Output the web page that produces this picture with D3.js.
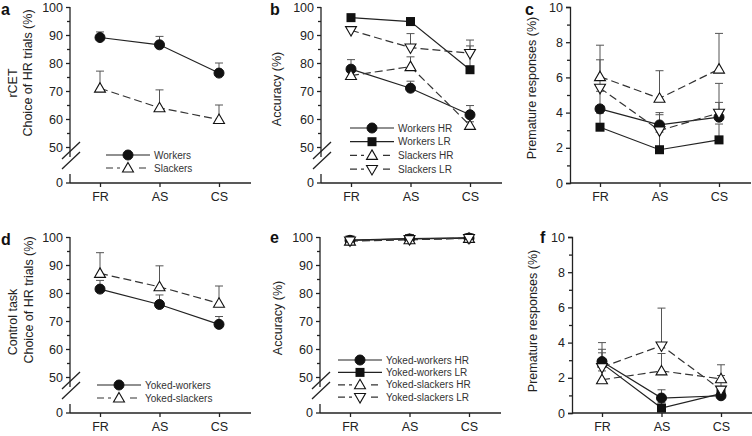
<!DOCTYPE html>
<html>
<head>
<meta charset="utf-8">
<script src="https://cdn.jsdelivr.net/npm/d3@7"></script>
<style>
  body { margin: 0; background: #fff; }
  svg { font-family: "Liberation Sans", Arial, sans-serif; }
</style>
</head>
<body>
<svg id="fig" width="752" height="436"></svg>
<script>
var categories = ["FR", "AS", "CS"];

// panel a - rCET choice
var aWorkers = [89.1, 86.5, 76.4];
var aWorkersSem = [2.0, 3.0, 3.6];
var aSlackers = [71.0, 64.0, 59.8];
var aSlackersSem = [6.1, 6.4, 5.2];

// panel b - rCET accuracy
var bWorkersHR = [77.8, 71.0, 61.5];
var bWorkersHRSem = [3.4, 2.5, 3.3];
var bWorkersLR = [96.2, 94.8, 77.6];
var bWorkersLRSem = [0.8, 1.4, 8.5];
var bSlackersHR = [75.5, 78.7, 57.7];
var bSlackersHRSem = [1.5, 3.5, 1.3];
var bSlackersLR = [91.7, 85.5, 83.5];
var bSlackersLRSem = [1.3, 5.0, 4.7];

// panel c - rCET premature
var cWorkersHR = [4.21, 3.3, 3.74];
var cWorkersHRSem = [1.0, 0.7, 0.84];
var cWorkersLR = [3.17, 1.89, 2.45];
var cWorkersLRSem = [0.8, 1.0, 0.9];
var cSlackersHR = [6.04, 4.81, 6.47];
var cSlackersHRSem = [1.79, 1.57, 2.03];
var cSlackersLR = [5.4, 2.98, 3.98];
var cSlackersLRSem = [1.6, 0.9, 1.68];

// panel d - control task choice
var dWorkers = [81.4, 75.9, 68.8];
var dWorkersSem = [3.1, 3.4, 2.8];
var dSlackers = [87.0, 82.2, 76.3];
var dSlackersSem = [7.4, 7.5, 6.2];

// panel e - control task accuracy
var eWorkersHR = [98.8, 99.3, 99.6];
var eWorkersLR = [98.9, 99.4, 99.7];
var eSlackersHR = [98.5, 99.0, 99.5];
var eSlackersLR = [98.7, 99.2, 99.6];
var eSem = [0.4, 0.3, 0.2];

// panel f - control task premature
var fWorkersHR = [2.92, 0.85, 0.98];
var fWorkersHRSem = [0.7, 0.47, 0.3];
var fWorkersLR = [2.82, 0.28, 1.1];
var fWorkersLRSem = [0.6, 0.3, 0.3];
var fSlackersHR = [1.89, 2.39, 1.94];
var fSlackersHRSem = [0.5, 0.99, 0.8];
var fSlackersLR = [2.6, 3.83, 1.32];
var fSlackersLRSem = [1.4, 2.13, 0.81];

var pctTicks = [50, 60, 70, 80, 90, 100];
var pctMinor = [55, 65, 75, 85, 95];
var premTicks = [0, 2, 4, 6, 8, 10];
var premMinor = [1, 3, 5, 7, 9];

var ink = "#222";
var svg = d3.select("#fig");

function makeSeries(name, values, sem, shape, dashed) {
  return { name: name, values: values, sem: sem, shape: shape, dashed: dashed };
}

function drawMarker(g, shape, cx, cy) {
  if (shape == "circle") {
    g.append("circle").attr("cx", cx).attr("cy", cy).attr("r", 5)
      .attr("fill", "#111").attr("stroke", "#111");
  } else if (shape == "square") {
    g.append("rect").attr("x", cx - 4.5).attr("y", cy - 4.5)
      .attr("width", 9).attr("height", 9).attr("fill", "#111");
  } else {
    var sym = d3.symbol().type(d3.symbolTriangle).size(52);
    var rot = shape == "down" ? 180 : 0;
    var dy = shape == "down" ? -0.5 : 0.8;
    g.append("path").attr("d", sym())
      .attr("transform", "translate(" + cx + "," + (cy + dy) + ") rotate(" + rot + ")")
      .attr("fill", "white").attr("stroke", "#111").attr("stroke-width", 1.1);
  }
}

function drawPanel(p) {
  var g = svg.append("g");
  var x = d3.scalePoint().domain(categories).range([p.ax + 30, p.ax + 149]);
  var y;
  if (p.broken) {
    y = d3.scaleLinear().domain([50, 100]).range([p.y0 - 36, p.y0 - 176]);
  } else {
    y = d3.scaleLinear().domain([0, 10]).range([p.y0, p.y0 - 176]);
  }

  // x axis
  var xAxis = d3.axisBottom(x).tickSize(4).tickPadding(5);
  var xg = g.append("g").attr("transform", "translate(0," + p.y0 + ")").call(xAxis);
  xg.select(".domain").attr("d", "M" + p.ax + ",0H" + (p.ax + 181));
  xg.selectAll("line, path").attr("stroke", ink).attr("stroke-width", 1.3);
  xg.selectAll("text").attr("font-size", 12.5).attr("fill", ink)
    .attr("font-family", "Liberation Sans, Arial, sans-serif");

  // y axis
  var majors = p.broken ? pctTicks : premTicks;
  var minors = p.broken ? pctMinor : premMinor;
  var yAxis = d3.axisLeft(y).tickValues(majors).tickSize(4).tickPadding(3);
  var yg = g.append("g").attr("transform", "translate(" + p.ax + ",0)").call(yAxis);
  yg.selectAll("text").attr("font-size", 12.5).attr("fill", ink)
    .attr("font-family", "Liberation Sans, Arial, sans-serif");
  var yMinor = d3.axisLeft(y).tickValues(minors).tickSize(3).tickFormat("");
  var ym = g.append("g").attr("transform", "translate(" + p.ax + ",0)").call(yMinor);
  ym.select(".domain").remove();
  g.selectAll("line").attr("stroke", ink).attr("stroke-width", 1.3);

  if (p.broken) {
    var top = y(100);
    yg.select(".domain").attr("d", "M0," + top + "V" + (y(50) + 10));
    // zero tick and its label under the break
    g.append("line").attr("x1", p.ax - 4).attr("x2", p.ax)
      .attr("y1", p.y0).attr("y2", p.y0).attr("stroke", ink).attr("stroke-width", 1.3);
    g.append("line").attr("x1", p.ax).attr("x2", p.ax)
      .attr("y1", p.y0 - 9).attr("y2", p.y0).attr("stroke", ink).attr("stroke-width", 1.3);
    g.append("text").attr("x", p.ax - 7).attr("y", p.y0).attr("dy", "0.32em")
      .attr("text-anchor", "end").attr("font-size", 12.5).attr("fill", ink).text("0");
    [0, 10].forEach(function (off) {
      g.append("line")
        .attr("x1", p.ax - 8).attr("y1", p.y0 - 14 + off - 10)
        .attr("x2", p.ax + 10).attr("y2", p.y0 - 31 + off - 10)
        .attr("stroke", ink).attr("stroke-width", 1.3);
    });
  }
  yg.selectAll("path, line").attr("stroke", ink).attr("stroke-width", 1.3);

  // axis title
  p.titles.forEach(function (t) {
    g.append("text")
      .attr("transform", "translate(" + t.x + "," + t.y + ") rotate(-90)")
      .attr("text-anchor", "middle").attr("font-size", 12.5).attr("fill", ink)
      .text(t.text);
  });

  // panel letter
  g.append("text").attr("x", p.letterX).attr("y", p.letterY)
    .attr("font-size", 16).attr("font-weight", "bold").attr("fill", "#111")
    .text(p.letter);

  // error bars (upper only)
  p.series.forEach(function (s) {
    s.values.forEach(function (v, i) {
      var cx = x(categories[i]);
      var yt = y(v + s.sem[i]);
      g.append("line").attr("x1", cx).attr("x2", cx)
        .attr("y1", y(v)).attr("y2", yt)
        .attr("stroke", "#555").attr("stroke-width", 1);
      g.append("line").attr("x1", cx - 4).attr("x2", cx + 4)
        .attr("y1", yt).attr("y2", yt)
        .attr("stroke", "#555").attr("stroke-width", 1);
    });
  });

  // lines
  p.series.forEach(function (s) {
    g.append("path")
      .datum(s.values)
      .attr("fill", "none")
      .attr("stroke", s.dashed ? "#333" : ink)
      .attr("stroke-width", 1.2)
      .attr("stroke-dasharray", s.dashed ? "8,4" : null)
      .attr("d", d3.line()
        .x(function (d, i) { return x(categories[i]) })
        .y(function (d) { return y(d) })
      );
  });

  // markers
  p.series.forEach(function (s) {
    s.values.forEach(function (v, i) {
      drawMarker(g, s.shape, x(categories[i]), y(v));
    });
  });

  // legend
  if (p.legend) {
    p.series.forEach(function (s, i) {
      var ly = p.legend.y + i * p.legend.step;
      g.append("line")
        .attr("x1", p.legend.x).attr("x2", p.legend.x + 44)
        .attr("y1", ly).attr("y2", ly)
        .attr("stroke", s.dashed ? "#333" : ink).attr("stroke-width", 1.2)
        .attr("stroke-dasharray", s.dashed ? "7,4" : null);
      if (s.dashed) {
        g.append("rect").attr("x", p.legend.x + 14).attr("y", ly - 3)
          .attr("width", 16).attr("height", 6).attr("fill", "white");
      }
      drawMarker(g, s.shape, p.legend.x + 22, ly);
      g.append("text").attr("x", p.legend.x + 48).attr("y", ly).attr("dy", "0.35em")
        .attr("font-size", 10).attr("fill", "#333").text(s.name);
    });
  }
}

drawPanel({
  letter: "a", letterX: 1, letterY: 15, ax: 70, y0: 183, broken: true,
  titles: [{ text: "rCET", x: 17, y: 83 }, { text: "Choice of HR trials (%)", x: 32, y: 73 }],
  legend: { x: 106, y: 155, step: 13 },
  series: [
    makeSeries("Workers", aWorkers, aWorkersSem, "circle", false),
    makeSeries("Slackers", aSlackers, aSlackersSem, "up", true)
  ]
});

drawPanel({
  letter: "b", letterX: 270, letterY: 15, ax: 321, y0: 183, broken: true,
  titles: [{ text: "Accuracy (%)", x: 281, y: 89 }],
  legend: { x: 350, y: 128, step: 13.7 },
  series: [
    makeSeries("Workers HR", bWorkersHR, bWorkersHRSem, "circle", false),
    makeSeries("Workers LR", bWorkersLR, bWorkersLRSem, "square", false),
    makeSeries("Slackers HR", bSlackersHR, bSlackersHRSem, "up", true),
    makeSeries("Slackers LR", bSlackersLR, bSlackersLRSem, "down", true)
  ]
});

drawPanel({
  letter: "c", letterX: 525, letterY: 15, ax: 570, y0: 183, broken: false,
  titles: [{ text: "Premature responses (%)", x: 536, y: 88 }],
  legend: null,
  series: [
    makeSeries("Workers HR", cWorkersHR, cWorkersHRSem, "circle", false),
    makeSeries("Workers LR", cWorkersLR, cWorkersLRSem, "square", false),
    makeSeries("Slackers HR", cSlackersHR, cSlackersHRSem, "up", true),
    makeSeries("Slackers LR", cSlackersLR, cSlackersLRSem, "down", true)
  ]
});

drawPanel({
  letter: "d", letterX: 1, letterY: 245, ax: 70, y0: 413, broken: true,
  titles: [{ text: "Control task", x: 17, y: 322 }, { text: "Choice of HR trials (%)", x: 33, y: 300 }],
  legend: { x: 97, y: 385, step: 13 },
  series: [
    makeSeries("Yoked-workers", dWorkers, dWorkersSem, "circle", false),
    makeSeries("Yoked-slackers", dSlackers, dSlackersSem, "up", true)
  ]
});

drawPanel({
  letter: "e", letterX: 270, letterY: 243, ax: 320, y0: 413, broken: true,
  titles: [{ text: "Accuracy (%)", x: 282, y: 318 }],
  legend: { x: 338, y: 360, step: 12.4 },
  series: [
    makeSeries("Yoked-workers HR", eWorkersHR, eSem, "circle", false),
    makeSeries("Yoked-workers LR", eWorkersLR, eSem, "square", false),
    makeSeries("Yoked-slackers HR", eSlackersHR, eSem, "up", true),
    makeSeries("Yoked-slackers LR", eSlackersLR, eSem, "down", true)
  ]
});

drawPanel({
  letter: "f", letterX: 540, letterY: 243, ax: 572, y0: 413, broken: false,
  titles: [{ text: "Premature responses (%)", x: 537, y: 321 }],
  legend: null,
  series: [
    makeSeries("Yoked-workers HR", fWorkersHR, fWorkersHRSem, "circle", false),
    makeSeries("Yoked-workers LR", fWorkersLR, fWorkersLRSem, "square", false),
    makeSeries("Yoked-slackers HR", fSlackersHR, fSlackersHRSem, "up", true),
    makeSeries("Yoked-slackers LR", fSlackersLR, fSlackersLRSem, "down", true)
  ]
});
</script>
</body>
</html>
